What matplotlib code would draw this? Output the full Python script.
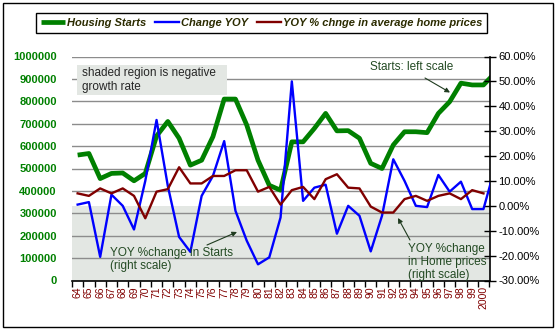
import matplotlib
matplotlib.use('Agg')
import matplotlib.pyplot as plt
from matplotlib.patches import Rectangle
from matplotlib.transforms import blended_transform_factory
from matplotlib.ticker import FuncFormatter
import numpy as np

plt.rcParams['font.family'] = ['Liberation Sans', 'DejaVu Sans']

years = ['64', '65', '66', '67', '68', '69', '70', '71', '72', '73', '74', '75',
         '76', '77', '78', '79', '80', '81', '82', '83', '84', '85', '86', '87',
         '88', '89', '90', '91', '92', '93', '94', '95', '96', '97', '98', '99', '2000']

# Housing starts (left scale); last value (2001) runs off the right edge
starts = [560000, 567000, 455000, 478000, 480000, 445000, 478000, 645000, 710000,
          635000, 515000, 537000, 642000, 810000, 810000, 694000, 537000, 425000,
          403000, 619000, 619000, 679000, 746000, 668000, 669000, 635000, 523000,
          500000, 605000, 664000, 664000, 660000, 746000, 798000, 881000, 873000,
          873000, 925000]

# YOY % change in starts (right scale)
change_yoy = [0.5, 1.5, -20.5, 4.5, 0.0, -9.5, 10.0, 34.5, 8.0, -12.5, -18.5, 4.0,
              12.0, 26.0, -2.0, -14.0, -23.5, -20.7, -4.7, 50.0, 2.0, 7.3, 8.5,
              -11.2, 0.0, -4.0, -18.3, -4.0, 18.7, 10.0, 0.0, -0.5, 12.4, 5.7,
              9.7, -1.3, -1.3, 15.0]

# YOY % change in average home prices (right scale)
price_yoy = [5.0, 4.0, 7.0, 5.0, 7.0, 4.0, -5.0, 5.7, 6.7, 15.5, 9.0, 9.0, 12.0,
             12.0, 14.3, 14.3, 5.7, 7.6, 0.5, 6.3, 7.6, 2.7, 10.7, 12.7, 7.3, 7.0,
             -0.3, -2.7, -2.7, 2.7, 4.0, 2.0, 4.0, 5.0, 2.7, 6.3, 5.0]

W, H = 560, 335
fig = plt.figure(figsize=(W / 100, H / 100), dpi=100)


def fx(x):
    return x / W


def fy(y):
    return 1 - y / H


ax = fig.add_axes([fx(72), fy(280.5), fx(490) - fx(72), fy(56.5) - fy(280.5)])
ax2 = ax.twinx()

green = '#008000'
blue = '#0000ff'
brown = '#800000'
txtgreen = '#234a23'

# shaded negative region (0% to -30% on right scale)
shade = Rectangle((0, -30), 1, 30,
                  transform=blended_transform_factory(ax.transAxes, ax2.transData),
                  facecolor='#e3e7e3', edgecolor='none', zorder=0.2)
ax.add_patch(shade)

l1, = ax.plot(np.arange(len(starts)), starts, color=green, lw=3.4, zorder=3,
              solid_capstyle='butt')
l2, = ax2.plot(np.arange(len(change_yoy)), change_yoy, color=blue, lw=1.7, zorder=3)
l3, = ax2.plot(np.arange(len(price_yoy)), price_yoy, color=brown, lw=1.7, zorder=4)

ax.set_xlim(-0.5, 36.58)
ax.set_ylim(0, 1000000)
ax2.set_ylim(-30, 60)

ax.set_yticks(np.arange(0, 1000001, 100000))
ax.yaxis.set_major_formatter(FuncFormatter(lambda v, p: f'{int(round(v))}'))
ax.tick_params(axis='y', length=0, pad=11, labelcolor=green, labelsize=8)
for t in ax.get_yticklabels():
    t.set_fontweight('bold')
ax.set_axisbelow(True)
ax.yaxis.grid(True, color='#8c8c8c', lw=1.0)

ax.set_xticks(np.arange(len(years)))
ax.set_xticklabels(years, rotation=90, color=brown, fontsize=7.5)
ax.set_xticks(np.arange(-0.5, len(years), 1.0), minor=True)
ax.tick_params(axis='x', which='major', length=0, pad=4)
ax.tick_params(axis='x', which='minor', length=4, width=1, color='black', direction='out')

ax2.set_yticks(np.arange(-30, 61, 10))
ax2.yaxis.set_major_formatter(FuncFormatter(lambda v, p: f'{v:.2f}%'))
ax2.tick_params(axis='y', direction='inout', length=8, width=1, labelsize=8, pad=2)

for s in ['left', 'top', 'right']:
    ax.spines[s].set_visible(False)
ax.spines['bottom'].set_color('black')
ax.spines['bottom'].set_linewidth(1.2)
for s in ['left', 'top', 'bottom']:
    ax2.spines[s].set_visible(False)
ax2.spines['right'].set_color('black')
ax2.spines['right'].set_linewidth(1.2)

# legend
leg = fig.legend(handles=[l1, l2, l3],
                 labels=['Housing Starts', 'Change YOY', 'YOY % chnge in average home prices'],
                 ncol=3, loc='upper center', bbox_to_anchor=(fx(261.5), fy(7)),
                 frameon=True, fancybox=False, edgecolor='black', framealpha=1,
                 prop={'weight': 'bold', 'style': 'italic', 'size': 8},
                 labelcolor='#2b2b00', handlelength=2.2, handletextpad=0.15,
                 columnspacing=0.8, borderpad=0.45)
leg.get_frame().set_linewidth(1.0)

# annotation box
fig.add_artist(Rectangle((fx(77), fy(95)), fx(227) - fx(77), fy(65) - fy(95),
                         transform=fig.transFigure, facecolor='#e3e7e3',
                         edgecolor='none'))
fig.text(fx(82), fy(80), 'shaded region is negative\ngrowth rate', ha='left',
         va='center', fontsize=8.5, color='#262626', linespacing=1.12)

fig.text(fx(110), fy(259.5), 'YOY %change in Starts\n(right scale)', ha='left',
         va='center', fontsize=8.5, color=txtgreen, linespacing=1.12)
fig.text(fx(370), fy(67.5), 'Starts: left scale', ha='left', va='center',
         fontsize=8.5, color=txtgreen)
fig.text(fx(408), fy(262), 'YOY %change\nin Home prices\n(right scale)', ha='left',
         va='center', fontsize=8.5, color=txtgreen, linespacing=1.08)

arrow_kw = dict(arrowstyle='-|>', color='#1e3a1e', lw=0.8, mutation_scale=7,
                shrinkA=0, shrinkB=0)
fig.add_artist(matplotlib.patches.FancyArrowPatch((fx(207), fy(245)), (fx(237), fy(232)),
                                                  transform=fig.transFigure, **arrow_kw))
fig.add_artist(matplotlib.patches.FancyArrowPatch((fx(425), fy(78)), (fx(450), fy(92.5)),
                                                  transform=fig.transFigure, **arrow_kw))
fig.add_artist(matplotlib.patches.FancyArrowPatch((fx(410), fy(240)), (fx(398), fy(218)),
                                                  transform=fig.transFigure, **arrow_kw))

# outer frame
fig.add_artist(Rectangle((fx(3), fy(327)), fx(553) - fx(3), fy(3) - fy(327),
                         transform=fig.transFigure, fill=False, edgecolor='black', lw=1.0))

fig.savefig('out.png', dpi=100)
